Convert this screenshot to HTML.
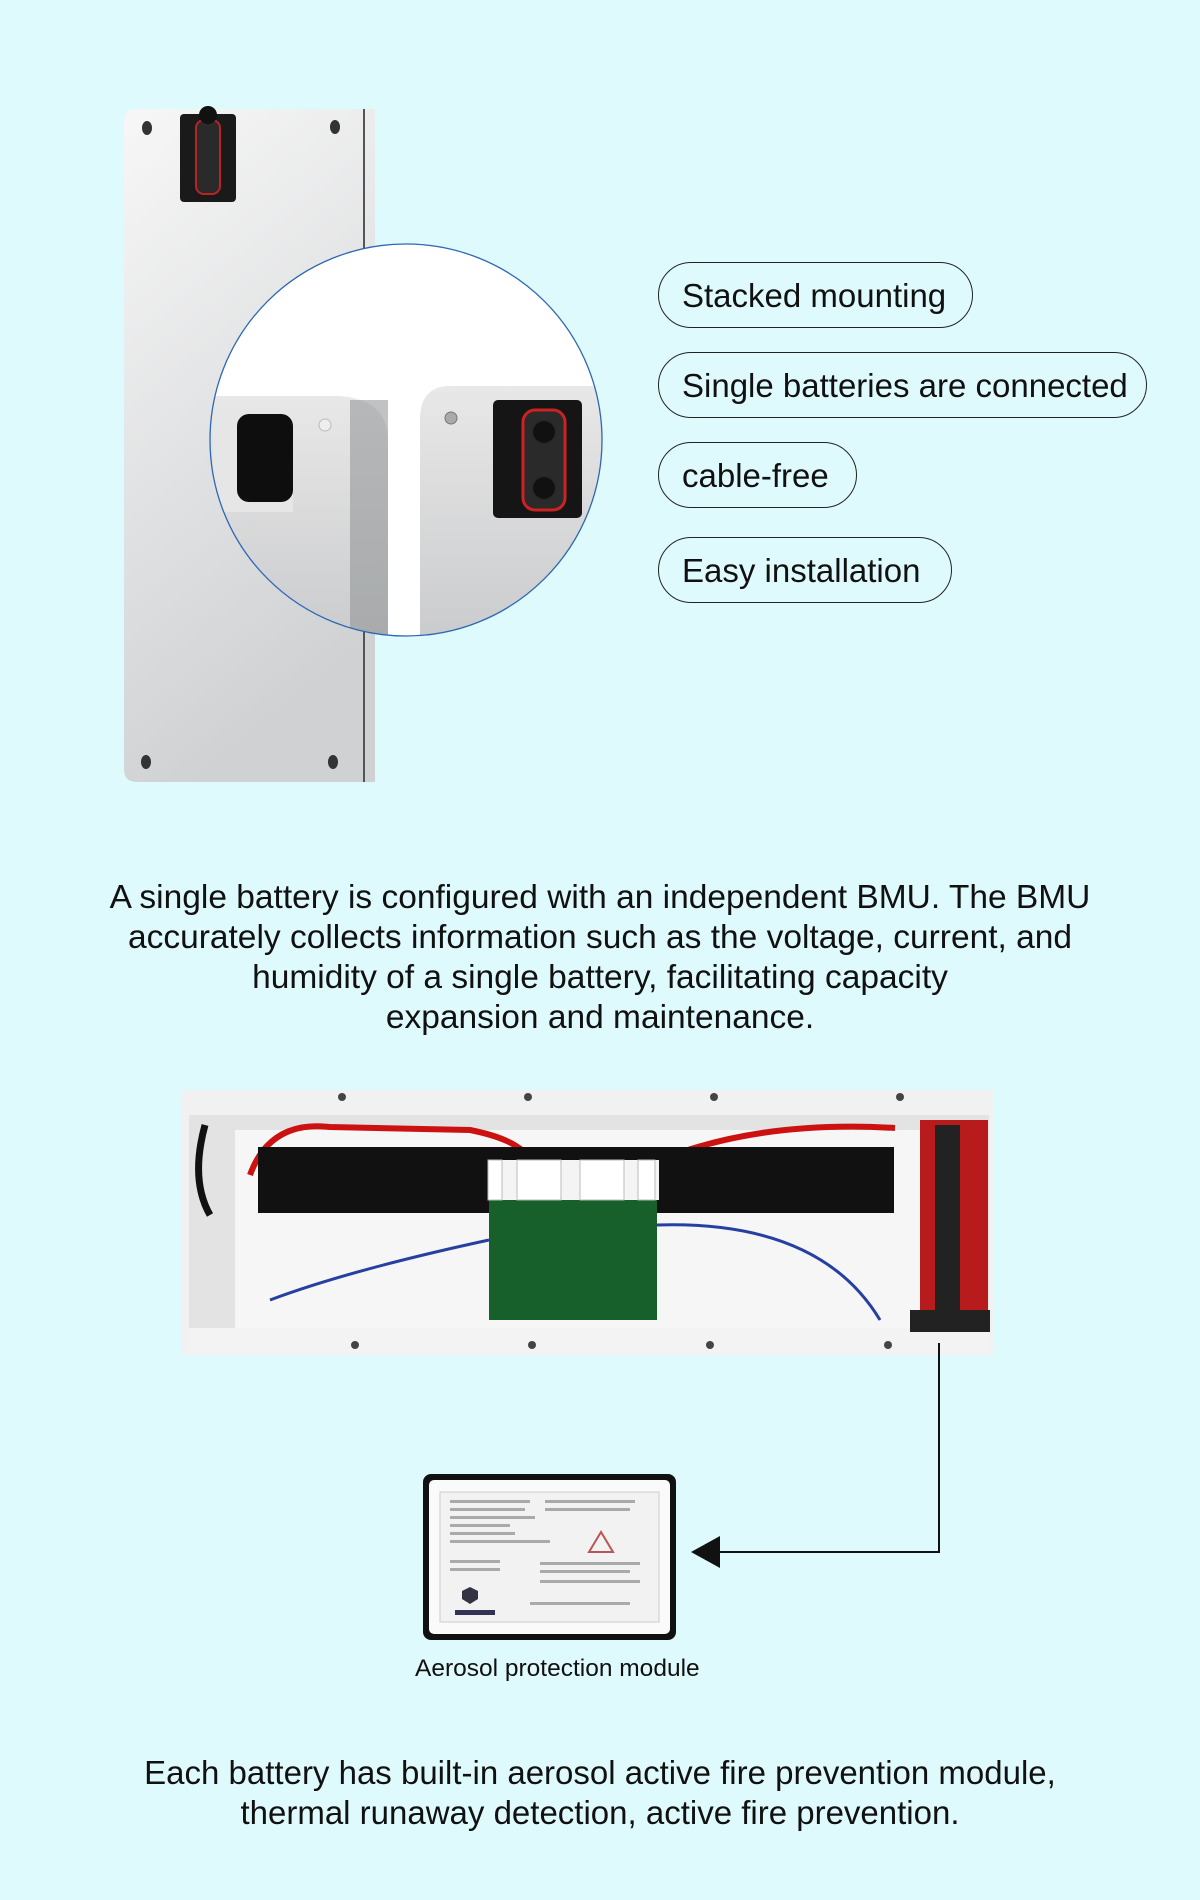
<!DOCTYPE html>
<html><head><meta charset="utf-8"><style>
html,body{margin:0;padding:0}
body{width:1200px;height:1900px;background:#dffafd;position:relative;overflow:hidden;font-family:"Liberation Sans",Arial,sans-serif;color:#111}
.t{position:absolute;white-space:nowrap}
.pill{position:absolute;border:1.3px solid #222;border-radius:34px;box-sizing:border-box;font-size:33px}
.pill span{position:absolute;left:23px;top:14px}
.c{position:absolute;left:0;width:1200px;text-align:center;white-space:nowrap}
</style></head><body>
<svg width="1200" height="1900" style="position:absolute;left:0;top:0">
<defs>
<linearGradient id="pg" x1="0" y1="0" x2="0.3" y2="1"><stop offset="0" stop-color="#f7f7f7"/><stop offset="1" stop-color="#cfd1d3"/></linearGradient>
<linearGradient id="lg" x1="0" y1="0" x2="0" y2="1"><stop offset="0" stop-color="#e8e8e8"/><stop offset="1" stop-color="#c9cacc"/></linearGradient>
<clipPath id="cc"><circle cx="406" cy="440" r="196"/></clipPath>
</defs>
<path d="M137 109 H375 V782 H137 Q124 782 124 769 V122 Q124 109 137 109Z" fill="url(#pg)"/>
<rect x="363" y="109" width="2" height="673" fill="#555"/>
<rect x="180" y="114" width="56" height="88" rx="4" fill="#1a1a1a"/>
<rect x="196" y="120" width="24" height="74" rx="8" fill="#2a2a2a" stroke="#b22" stroke-width="2"/>
<circle cx="208" cy="115" r="9" fill="#111"/>
<ellipse cx="147" cy="128" rx="5" ry="7" fill="#333"/><ellipse cx="335" cy="127" rx="5" ry="7" fill="#333"/>
<ellipse cx="146" cy="762" rx="5" ry="7" fill="#333"/><ellipse cx="333" cy="762" rx="5" ry="7" fill="#333"/>
<g clip-path="url(#cc)">
<rect x="200" y="240" width="420" height="410" fill="#fff"/>
<path d="M200 396 H340 Q388 400 388 440 V650 H200Z" fill="url(#lg)"/>
<rect x="350" y="400" width="38" height="250" fill="#8d8f91" opacity="0.55"/>
<rect x="213" y="408" width="80" height="104" fill="#e6e6e6"/>
<rect x="237" y="414" width="56" height="88" rx="12" fill="#0e0e0e"/>
<circle cx="325" cy="425" r="6" fill="#eee" stroke="#bbb"/>
<path d="M420 420 Q420 386 450 386 H620 V650 H420Z" fill="url(#lg)"/>
<circle cx="451" cy="418" r="6" fill="#aaa" stroke="#777"/>
<rect x="493" y="400" width="89" height="118" rx="5" fill="#151515"/>
<rect x="523" y="410" width="42" height="100" rx="12" fill="#2a2a2a" stroke="#c22" stroke-width="3"/>
<circle cx="544" cy="432" r="11" fill="#111"/><circle cx="544" cy="488" r="11" fill="#111"/>
</g>
<circle cx="406" cy="440" r="196" fill="none" stroke="#2d67b5" stroke-width="1.3"/>
<rect x="181" y="1090" width="812" height="265" fill="#f1f1f1"/>
<rect x="189" y="1115" width="800" height="218" fill="#e3e3e3"/>
<rect x="235" y="1130" width="700" height="200" fill="#f6f6f6"/>
<path d="M205 1125 Q190 1180 210 1215" stroke="#111" stroke-width="7" fill="none"/>
<path d="M250 1175 Q270 1120 330 1127 L470 1130 Q520 1140 530 1160" stroke="#c11" stroke-width="6" fill="none"/>
<path d="M660 1160 Q760 1120 895 1128" stroke="#c11" stroke-width="6" fill="none"/>
<rect x="258" y="1147" width="636" height="66" fill="#111"/>
<rect x="920" y="1120" width="68" height="200" fill="#b71b1b"/>
<rect x="935" y="1125" width="25" height="190" fill="#222"/>
<path d="M270 1300 Q350 1270 489 1240" stroke="#2540a0" stroke-width="3" fill="none"/>
<path d="M657 1225 Q820 1220 880 1320" stroke="#2540a0" stroke-width="3" fill="none"/>
<rect x="489" y="1195" width="168" height="125" fill="#17602c"/>
<rect x="489" y="1160" width="170" height="40" fill="#f4f4f4"/>
<rect x="488" y="1160" width="14" height="40" fill="#fff" stroke="#bbb"/><rect x="517" y="1160" width="44" height="40" fill="#fff" stroke="#bbb"/><rect x="580" y="1160" width="44" height="40" fill="#fff" stroke="#bbb"/><rect x="638" y="1160" width="17" height="40" fill="#fff" stroke="#bbb"/>
<rect x="189" y="1328" width="800" height="25" fill="#f3f3f3"/>
<rect x="910" y="1310" width="80" height="22" fill="#222"/>
<g fill="#444"><circle cx="342" cy="1097" r="4"/><circle cx="528" cy="1097" r="4"/><circle cx="714" cy="1097" r="4"/><circle cx="900" cy="1097" r="4"/><circle cx="355" cy="1345" r="4"/><circle cx="532" cy="1345" r="4"/><circle cx="710" cy="1345" r="4"/><circle cx="888" cy="1345" r="4"/></g>
<polyline points="939,1343 939,1552 716,1552" fill="none" stroke="#111" stroke-width="2"/>
<polygon points="691,1552 720,1536 720,1568" fill="#111"/>
<rect x="423" y="1474" width="253" height="166" rx="8" fill="#111"/>
<rect x="429" y="1480" width="241" height="154" rx="5" fill="#fafafa"/>
<rect x="440" y="1492" width="219" height="130" fill="#f2f2f2" stroke="#ccc"/>
<g fill="#aaa"><rect x="450" y="1500" width="80" height="3"/><rect x="450" y="1508" width="75" height="3"/><rect x="450" y="1516" width="85" height="3"/><rect x="450" y="1524" width="60" height="3"/><rect x="450" y="1532" width="65" height="3"/><rect x="450" y="1540" width="100" height="3"/><rect x="545" y="1500" width="90" height="3"/><rect x="545" y="1508" width="85" height="3"/><rect x="450" y="1560" width="50" height="3"/><rect x="450" y="1568" width="50" height="3"/><rect x="540" y="1562" width="100" height="3"/><rect x="540" y="1570" width="90" height="3"/><rect x="540" y="1580" width="100" height="3"/><rect x="530" y="1602" width="100" height="3"/></g>
<polygon points="601,1532 589,1552 613,1552" fill="none" stroke="#b55" stroke-width="2"/>
<path d="M470 1587 l8 4 v8 l-8 5 l-8 -5 v-8z" fill="#334" />
<rect x="455" y="1610" width="40" height="5" fill="#335"/>
</svg>
<div class="pill" style="left:658px;top:262px;width:315px;height:66px"><span>Stacked mounting</span></div>
<div class="pill" style="left:658px;top:352px;width:489px;height:66px"><span>Single batteries are connected</span></div>
<div class="pill" style="left:658px;top:442px;width:199px;height:66px"><span>cable-free</span></div>
<div class="pill" style="left:658px;top:537px;width:294px;height:66px"><span>Easy installation</span></div>
<div class="c" style="top:878px;font-size:33.5px;line-height:40px">A single battery is configured with an independent BMU. The BMU<br>accurately collects information such as the voltage, current, and<br>humidity of a single battery, facilitating capacity<br>expansion and maintenance.</div>
<div class="t" style="left:415px;top:1655px;font-size:24.5px">Aerosol protection module</div>
<div class="c" style="top:1753px;font-size:33px;line-height:40px">Each battery has built-in aerosol active fire prevention module,<br>thermal runaway detection, active fire prevention.</div>
</body></html>
